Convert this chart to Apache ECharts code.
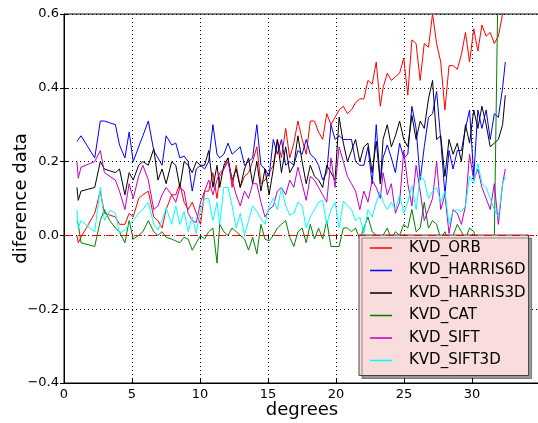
<!DOCTYPE html>
<html>
<head>
<meta charset="utf-8">
<script src="https://cdn.jsdelivr.net/npm/echarts@6/dist/echarts.min.js"></script>
<style>
  html, body { margin: 0; padding: 0; background: #fff; }
  #chart { width: 538px; height: 423px; }
</style>
</head>
<body>
<div id="chart"></div>
<script>
// rotation angle (degrees) shared by every descriptor run
const degrees = [0.95, 1.05, 1.25, 2.26, 2.67, 2.97, 3.37, 3.78, 4.08, 4.48,
  4.79, 5.09, 5.49, 5.80, 6.20, 6.60, 6.91, 7.21, 7.51, 7.92,
  8.22, 8.52, 8.83, 9.13, 9.43, 9.73, 10.04, 10.34, 10.64, 10.95,
  11.25, 11.45, 11.75, 12.06, 12.36, 12.66, 12.96, 13.27, 13.57, 13.87,
  14.18, 14.48, 14.78, 15.08, 15.39, 15.69, 15.99, 16.30, 16.60, 16.90,
  17.20, 17.51, 17.81, 18.11, 18.42, 18.72, 19.02, 19.32, 19.63, 19.93,
  20.23, 20.54, 20.84, 21.14, 21.44, 21.75, 22.05, 22.35, 22.66, 22.96,
  23.26, 23.46, 23.77, 24.07, 24.37, 24.68, 24.98, 25.28, 25.58, 25.89,
  26.19, 26.49, 26.80, 27.10, 27.40, 27.70, 28.01, 28.31, 28.61, 28.92,
  29.22, 29.52, 29.82, 30.13, 30.43, 30.73, 31.04, 31.34, 31.64, 31.94,
  32.25, 32.45];

const kvdOrb = [0.00, -0.02, -0.005, 0.06, 0.12, 0.06, 0.055, 0.05, 0.03, 0.03,
  0.06, 0.05, 0.10, 0.11, 0.12, 0.05, 0.04, 0.02, 0.07, 0.11,
  0.11, 0.14, 0.09, 0.07, 0.09, 0.06, 0.03, 0.12, 0.12, 0.17,
  0.10, 0.16, 0.18, 0.21, 0.13, 0.19, 0.13, 0.16, 0.17, 0.20,
  0.24, 0.14, 0.15, 0.17, 0.19, 0.26, 0.21, 0.29, 0.21, 0.25,
  0.31, 0.26, 0.22, 0.31, 0.31, 0.28, 0.26, 0.33, 0.30, 0.32,
  0.34, 0.35, 0.33, 0.34, 0.36, 0.37, 0.37, 0.42, 0.41, 0.47,
  0.35, 0.40, 0.44, 0.42, 0.43, 0.44, 0.48, 0.38, 0.53, 0.52,
  0.42, 0.52, 0.51, 0.60, 0.52, 0.47, 0.34, 0.46, 0.46, 0.45,
  0.49, 0.55, 0.47, 0.56, 0.50, 0.57, 0.54, 0.55, 0.52, 0.54,
  0.60, 0.62];

const kvdHarris6d = [0.255, 0.25, 0.27, 0.21, 0.31, 0.31, 0.305, 0.30, 0.245, 0.21,
  0.28, 0.20, 0.24, 0.27, 0.31, 0.23, 0.21, 0.19, 0.27, 0.245,
  0.25, 0.21, 0.215, 0.20, 0.12, 0.18, 0.19, 0.18, 0.20, 0.30,
  0.22, 0.21, 0.22, 0.25, 0.22, 0.23, 0.24, 0.19, 0.20, 0.21,
  0.30, 0.19, 0.18, 0.16, 0.26, 0.22, 0.26, 0.19, 0.20, 0.19,
  0.23, 0.22, 0.26, 0.22, 0.21, 0.19, 0.15, 0.17, 0.30, 0.26,
  0.27, 0.26, 0.26, 0.26, 0.20, 0.19, 0.19, 0.24, 0.14, 0.30,
  0.14, 0.21, 0.245, 0.21, 0.17, 0.25, 0.21, 0.22, 0.35, 0.29,
  0.15, 0.24, 0.32, 0.33, 0.39, 0.26, 0.11, 0.23, 0.18, 0.23,
  0.23, 0.29, 0.34, 0.16, 0.34, 0.29, 0.34, 0.26, 0.33, 0.32,
  0.40, 0.47];

const kvdHarris3d = [0.13, 0.095, 0.12, 0.13, 0.20, 0.18, 0.175, 0.17, 0.18, 0.11,
  0.17, 0.15, 0.19, 0.20, 0.19, 0.235, 0.15, 0.18, 0.14, 0.20,
  0.19, 0.13, 0.20, 0.19, 0.17, 0.20, 0.19, 0.19, 0.23, 0.13,
  0.19, 0.13, 0.19, 0.21, 0.15, 0.18, 0.13, 0.18, 0.21, 0.14,
  0.20, 0.12, 0.18, 0.11, 0.18, 0.26, 0.17, 0.24, 0.17, 0.19,
  0.27, 0.20, 0.14, 0.19, 0.16, 0.15, 0.13, 0.19, 0.17, 0.15,
  0.32, 0.25, 0.20, 0.23, 0.26, 0.20, 0.24, 0.25, 0.17, 0.255,
  0.14, 0.26, 0.30, 0.24, 0.27, 0.31, 0.26, 0.24, 0.325, 0.26,
  0.31, 0.29, 0.37, 0.42, 0.26, 0.27, 0.16, 0.26, 0.22, 0.25,
  0.20, 0.30, 0.25, 0.34, 0.29, 0.35, 0.30, 0.24, 0.25, 0.26,
  0.30, 0.38];

const kvdCat = [0.04, 0.03, -0.02, -0.03, 0.04, 0.07, 0.04, 0.02, 0.01, -0.02,
  0.04, -0.01, 0.00, 0.01, 0.04, 0.01, 0.00, 0.01, -0.005, -0.01,
  -0.015, -0.02, -0.005, -0.01, -0.04, -0.02, 0.00, -0.01, 0.01, 0.02,
  -0.075, 0.03, 0.01, 0.00, 0.02, 0.01, 0.00, -0.01, -0.04, -0.005,
  -0.05, 0.03, -0.01, -0.015, 0.00, 0.02, 0.03, 0.04, -0.005, -0.03,
  0.01, 0.02, -0.02, 0.03, -0.01, 0.02, -0.01, 0.04, -0.03, -0.03,
  -0.03, 0.02, 0.02, 0.01, 0.02, -0.01, 0.02, 0.05, 0.01, 0.00,
  -0.02, 0.00, 0.02, -0.01, 0.01, 0.00, 0.03, 0.02, 0.07, 0.01,
  0.02, 0.09, 0.02, 0.04, 0.03, -0.01, 0.01, -0.02, 0.00, 0.03,
  0.01, -0.01, 0.02, 0.01, -0.03, -0.02, -0.005, -0.04, -0.01, 0.75,
  1.10, 1.20];

const kvdSift = [0.20, 0.155, 0.185, 0.20, 0.23, 0.17, 0.16, 0.15, 0.12, 0.07,
  0.14, 0.10, 0.16, 0.19, 0.15, 0.07, 0.08, 0.11, 0.13, 0.11,
  0.09, 0.13, 0.12, 0.06, 0.04, 0.035, 0.09, 0.12, 0.15, 0.11,
  0.15, 0.17, 0.18, 0.20, 0.15, 0.11, 0.08, 0.12, 0.10, 0.14,
  0.14, 0.09, 0.05, 0.07, 0.08, 0.12, 0.13, 0.11, 0.15, 0.13,
  0.185, 0.14, 0.095, 0.16, 0.15, 0.13, 0.11, 0.09, 0.21, 0.13,
  0.24, 0.20, 0.16, 0.14, 0.12, 0.07, 0.12, 0.09, 0.15, 0.13,
  0.10, 0.17, 0.11, 0.14, 0.06, 0.09, 0.23, 0.14, 0.08, 0.19,
  0.12, 0.04, 0.07, 0.10, 0.20, 0.07, 0.11, 0.005, 0.07, 0.06,
  0.03, 0.08, 0.22, 0.15, 0.18, 0.13, 0.10, 0.07, 0.14, 0.03,
  0.14, 0.18];

const kvdSift3d = [0.07, 0.02, 0.04, 0.01, 0.13, 0.04, 0.068, 0.06, 0.005, 0.015,
  0.03, 0.04, 0.06, 0.07, 0.09, 0.03, 0.015, 0.04, 0.075, 0.03,
  0.08, 0.03, 0.065, 0.01, 0.05, 0.005, 0.07, 0.10, 0.10, 0.04,
  0.09, 0.03, 0.13, 0.13, 0.08, 0.02, 0.06, 0.00, 0.04, 0.08,
  0.065, 0.045, 0.03, 0.08, 0.10, 0.07, 0.13, 0.08, 0.055, 0.06,
  0.09, 0.08, 0.02, 0.05, 0.07, 0.09, 0.095, 0.03, 0.07, 0.09,
  0.02, 0.093, 0.08, 0.07, 0.04, 0.05, 0.005, 0.07, 0.05, 0.09,
  0.12, 0.09, 0.07, 0.09, 0.07, 0.11, 0.06, 0.09, 0.135, 0.07,
  0.16, 0.15, 0.10, 0.12, 0.13, 0.09, 0.12, 0.03, 0.065, 0.07,
  0.065, 0.08, 0.16, 0.14, 0.195, 0.14, 0.13, 0.10, 0.07, 0.05,
  0.14, 0.16];

const seriesNames = ['KVD_ORB', 'KVD_HARRIS6D', 'KVD_HARRIS3D', 'KVD_CAT', 'KVD_SIFT', 'KVD_SIFT3D'];
const seriesValues = [kvdOrb, kvdHarris6d, kvdHarris3d, kvdCat, kvdSift, kvdSift3d];
const seriesColors = ['#ff0000', '#0000ff', '#000000', '#008000', '#bf00bf', '#00ffff'];

const FONT = 'DejaVu Sans';

function pairs(values) {
  return degrees.map((d, i) => [d, values[i]]);
}

function fmtY(v) {
  if (Math.abs(v) < 1e-9) return '0.0';
  const s = v.toFixed(1);
  return s.charAt(0) === '-' ? '\u2212' + s.slice(1) : s;
}

const chart = echarts.init(document.getElementById('chart'), null, { renderer: 'canvas' });

const series = seriesNames.map((name, k) => ({
  name: name,
  type: 'line',
  xAxisIndex: 0,
  yAxisIndex: 0,
  data: pairs(seriesValues[k]),
  showSymbol: false,
  symbol: 'none',
  clip: true,
  lineStyle: { color: seriesColors[k], width: 1 },
  itemStyle: { color: seriesColors[k] },
  emphasis: { disabled: true },
  animation: false
}));

// red dashed reference line at zero difference
series[0].markLine = {
  silent: true,
  symbol: 'none',
  label: { show: false },
  lineStyle: { color: '#ff0000', type: [8, 6], width: 1 },
  data: [{ yAxis: 0 }],
  animation: false
};

const tickStyle = { show: true, inside: true, length: 4, lineStyle: { color: '#000', width: 1 } };

chart.setOption({
  backgroundColor: '#ffffff',
  animation: false,
  grid: {
    left: 64, right: -2, top: 14, bottom: 40,
    outerBoundsMode: 'none',
    containLabel: false,
    show: true, borderColor: '#000', borderWidth: 1, backgroundColor: 'transparent'
  },
  legend: {
    orient: 'vertical',
    left: 359, top: 235,
    data: seriesNames,
    icon: 'rect',
    itemWidth: 22, itemHeight: 1.5,
    itemGap: 4.5,
    padding: [4, 3, 6, 11],
    backgroundColor: '#f9dcdc',
    borderColor: '#444',
    borderWidth: 1,
    shadowColor: 'rgba(0,0,0,0.4)',
    shadowBlur: 0,
    shadowOffsetX: 3,
    shadowOffsetY: 3,
    selectedMode: false,
    textStyle: { fontFamily: FONT, fontSize: 15, color: '#000', lineHeight: 18, padding: [0, 0, 0, 12] }
  },
  xAxis: [{
    type: 'value', min: 0, max: 35, interval: 5, position: 'bottom',
    name: 'degrees', nameLocation: 'middle', nameGap: 18, nameMoveOverlap: false,
    nameTextStyle: { fontFamily: FONT, fontSize: 18, color: '#000' },
    axisLine: { show: true, onZero: false, lineStyle: { color: '#000', width: 1 } },
    axisTick: tickStyle,
    axisLabel: {
      fontFamily: FONT, fontSize: 13, color: '#000', margin: 5,
      formatter: v => (v >= 35 ? '' : String(v))
    },
    splitLine: { show: true, lineStyle: { color: '#000', type: [1, 3], width: 1 } }
  }, {
    type: 'value', min: 0, max: 35, interval: 5, position: 'top',
    axisLine: { show: false },
    axisTick: tickStyle,
    axisLabel: { show: false },
    splitLine: { show: false }
  }],
  yAxis: [{
    type: 'value', min: -0.4, max: 0.6, interval: 0.2, position: 'left',
    name: 'diference data', nameLocation: 'middle', nameGap: 34, nameMoveOverlap: false,
    nameTextStyle: { fontFamily: FONT, fontSize: 18, color: '#000' },
    axisLine: { show: true, onZero: false, lineStyle: { color: '#000', width: 1 } },
    axisTick: tickStyle,
    axisLabel: { fontFamily: FONT, fontSize: 13, color: '#000', margin: 5, formatter: fmtY },
    splitLine: { show: true, lineStyle: { color: '#000', type: [1, 3], width: 1 } }
  }, {
    type: 'value', min: -0.4, max: 0.6, interval: 0.2, position: 'right',
    axisLine: { show: false },
    axisTick: tickStyle,
    axisLabel: { show: false },
    splitLine: { show: false }
  }],
  series: series
});
</script>
</body>
</html>
